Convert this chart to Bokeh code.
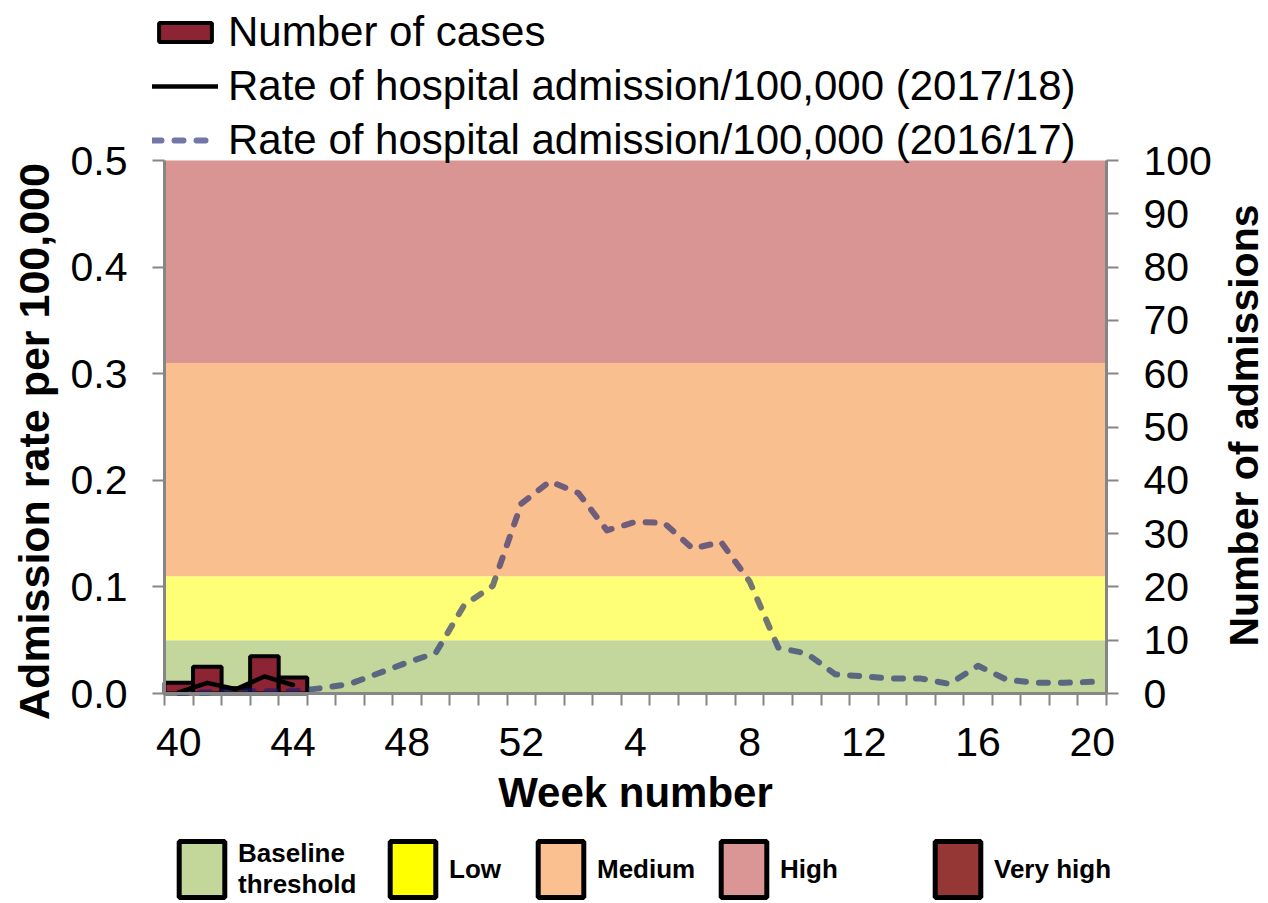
from bokeh.plotting import figure
from bokeh.models import (Range1d, LinearAxis, FixedTicker, Legend, LegendItem, Label,
                          CustomJSTickFormatter, NumeralTickFormatter)
from bokeh.embed import file_html
from bokeh.resources import INLINE
import math

# ---------------- data ----------------
weeks = [40, 41, 42, 43, 44, 45, 46, 47, 48, 49, 50, 51, 52,
         1, 2, 3, 4, 5, 6, 7, 8, 9, 10, 11, 12, 13, 14, 15, 16, 17, 18, 19, 20]
week_labels = [str(w) for w in weeks]

case_weeks = [40, 41, 42, 43, 44]
cases = [2, 5, 1, 7, 3]
rate_2017_18 = [0.001, 0.010, 0.004, 0.016, 0.008]

rate_2016_17 = [0.0005, 0.001, 0.002, 0.002, 0.002, 0.005, 0.009, 0.019, 0.029, 0.038,
                0.083, 0.101, 0.178, 0.199, 0.188, 0.153, 0.161, 0.160, 0.136, 0.142,
                0.105, 0.043, 0.0375, 0.018, 0.016, 0.014, 0.014, 0.009, 0.026, 0.013,
                0.010, 0.010, 0.011]

rate_ticks = [0.0, 0.1, 0.2, 0.3, 0.4, 0.5]
case_ticks = [0, 10, 20, 30, 40, 50, 60, 70, 80, 90, 100]

band_lower = [0.0, 0.05, 0.11, 0.31]
band_upper = [0.05, 0.11, 0.31, 0.5]
band_colors = ["#c3d69b", "#ffff77", "#f9bf8f", "#d99594"]

level_names = ["Baseline\nthreshold", "Low", "Medium", "High", "Very high"]
level_colors = ["#c4d79b", "#ffff00", "#fac090", "#d99694", "#953735"]

FONT = "Liberation Sans"

# ---------------- layout (pixels) ----------------
W, H = 1268, 903
PX_LEFT, PX_RIGHT = 164, 1106      # plot-area edges
PX_TOP, PX_BOTTOM = 160, 693

n = len(weeks)
xu = (PX_RIGHT - PX_LEFT) / n                      # px per category
yu = (PX_BOTTOM - PX_TOP) / rate_ticks[-1]          # px per rate unit
cu = (PX_BOTTOM - PX_TOP) / case_ticks[-1]          # px per case

# the frame spans the whole canvas so that keys and titles are never clipped
x_range = Range1d(-PX_LEFT / xu, n + (W - PX_RIGHT) / xu)
y_range = Range1d(-(H - PX_BOTTOM) / yu, PX_BOTTOM / yu)
c_range = Range1d(-(H - PX_BOTTOM) / cu, PX_BOTTOM / cu)

p = figure(width=W, height=H, output_backend="svg", toolbar_location=None,
           x_range=x_range, y_range=y_range, min_border=0)
p.extra_y_ranges = {"cases": c_range}
p.outline_line_color = None
p.xgrid.visible = False
p.ygrid.visible = False

# risk-level bands
p.quad(left=0, right=n, bottom=band_lower, top=band_upper, fill_color=band_colors,
       line_color=None)

xpos = {w: i + 0.5 for i, w in enumerate(weeks)}
cx = [xpos[w] for w in case_weeks]

bars = p.vbar(x=cx, top=cases, bottom=0, width=1.0, y_range_name="cases",
              fill_color="#8c2434", line_color="black", line_width=4)
dashed = p.line(x=[i + 0.5 for i in range(n)], y=rate_2016_17, line_color="#141c6e",
                line_alpha=0.6, line_width=6, line_dash="9 13", line_cap="round",
                line_join="round")
solid = p.line(x=cx, y=rate_2017_18, line_color="black", line_width=4.5,
               line_join="round", line_cap="round")

axis_color = "#868686"


def style_axis(ax, tick_out):
    ax.major_label_text_font = FONT
    ax.major_label_text_font_size = "41px"
    ax.major_label_text_color = "black"
    ax.major_tick_out = tick_out
    ax.major_tick_in = 0
    ax.minor_tick_out = 0
    ax.minor_tick_in = 0
    ax.major_tick_line_color = axis_color
    ax.major_tick_line_width = 2
    ax.axis_line_color = axis_color
    ax.axis_line_width = 3


xa = p.xaxis[0]
style_axis(xa, 0)
xa.fixed_location = 0
xa.bounds = (0, n)
xa.ticker = FixedTicker(ticks=[i + 0.5 for i in range(0, n, 4)],
                        minor_ticks=list(range(n + 1)))
xa.formatter = CustomJSTickFormatter(args=dict(labels=week_labels),
                                     code="return labels[Math.floor(tick)];")
xa.major_label_standoff = 22
xa.minor_tick_out = 12
xa.minor_tick_line_color = axis_color
xa.minor_tick_line_width = 2

ya = p.yaxis[0]
style_axis(ya, 12)
ya.fixed_location = 0
ya.bounds = (rate_ticks[0], rate_ticks[-1])
ya.ticker = FixedTicker(ticks=rate_ticks)
ya.formatter = NumeralTickFormatter(format="0.0")
ya.major_label_standoff = 25

ra = LinearAxis(y_range_name="cases", ticker=FixedTicker(ticks=case_ticks))
style_axis(ra, 12)
ra.fixed_location = n
ra.bounds = (case_ticks[0], case_ticks[-1])
ra.major_label_standoff = 25
p.add_layout(ra, "right")

# axis titles
title_kw = dict(x_units="screen", y_units="screen", text_align="center",
                text_baseline="middle", text_font=FONT, text_font_style="bold",
                text_color="black")
p.add_layout(Label(x=33, y=H - 441, text="Admission rate per 100,000", angle=math.pi / 2,
                   text_font_size="43px", **title_kw))
p.add_layout(Label(x=1243, y=H - 425, text="Number of admissions", angle=math.pi / 2,
                   text_font_size="41px", **title_kw))
p.add_layout(Label(x=635, y=H - 792, text="Week number", text_font_size="42px",
                   **title_kw))

# series legend above the plot area
top_leg = Legend(items=[
    LegendItem(label="Number of cases", renderers=[bars]),
    LegendItem(label="Rate of hospital admission/100,000 (2017/18)", renderers=[solid]),
    LegendItem(label="Rate of hospital admission/100,000 (2016/17)", renderers=[dashed]),
], location=(152, H - 164), orientation="vertical", glyph_width=66, glyph_height=24,
    label_height=48, spacing=6, padding=0, margin=0, label_standoff=10,
    label_text_font=FONT, label_text_font_size="42px", label_text_color="black",
    background_fill_alpha=0, border_line_alpha=0)
p.add_layout(top_leg)

# risk-level key below the chart
nan = float("nan")
key_x = [173, 384, 532, 715, 929]
for name, col, kx in zip(level_names, level_colors, key_x):
    r = p.quad(left=[nan], right=[nan], top=[nan], bottom=[nan], fill_color=col,
               line_color="black", line_width=5)
    lg = Legend(items=[LegendItem(label=name, renderers=[r])], location=(kx, -1),
                glyph_width=57, glyph_height=70, padding=0, margin=0, label_standoff=8,
                label_text_font=FONT, label_text_font_style="bold",
                label_text_font_size="26px", label_text_color="black",
                label_text_line_height=1.05,
                background_fill_alpha=0, border_line_alpha=0)
    p.add_layout(lg)

open("out.html", "w").write(file_html(p, INLINE))
